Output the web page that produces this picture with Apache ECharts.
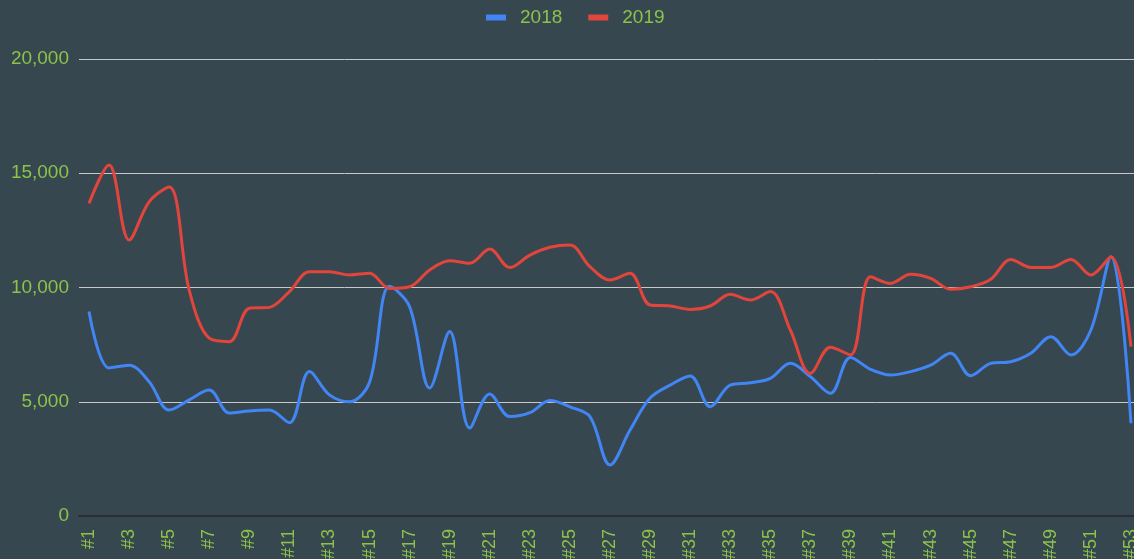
<!DOCTYPE html>
<html>
<head>
<meta charset="utf-8">
<script src="https://cdn.jsdelivr.net/npm/echarts@6/dist/echarts.min.js"></script>
<style>
  html, body { margin: 0; padding: 0; background: #37474f; overflow: hidden; }
  /* the plot runs slightly past the right edge of the window */
  #chart { width: 1146px; height: 559px; }
</style>
</head>
<body>
<div id="chart"></div>
<script>
// Weekly totals, week #1 to #53
const weeks = Array.from({ length: 53 }, (_, i) => '#' + (i + 1));

const values2018 = [
  8950, 6480, 6600, 5880, 4640, 5080, 5510, 4510, 4600, 4640,
  4080, 6320, 5300, 5000, 5850, 10050, 9160, 5600, 8070, 3850,
  5340, 4350, 4520, 5050, 4780, 4350, 2230, 3760, 5160, 5730,
  6130, 4780, 5730, 5830, 6020, 6680, 6100, 5370, 6940, 6420,
  6170, 6320, 6600, 7120, 6140, 6680, 6750, 7120, 7850, 7050,
  8140, 11350, 4060
];

const values2019 = [
  13680, 15360, 12080, 13750, 14400, 9890, 7780, 7630, 9090, 9130,
  9820, 10690, 10690, 10550, 10620, 9960, 10030, 10770, 11170, 11060,
  11680, 10870, 11420, 11760, 11860, 10910, 10330, 10620, 9230, 9190,
  9040, 9190, 9700, 9450, 9820, 8140, 6240, 7380, 7050, 10470,
  10180, 10580, 10400, 9920, 10030, 10360, 11230, 10880, 10880, 11230,
  10550, 11350, 7410
];

const yTicks = { min: 0, max: 20000, step: 5000 };

const textColor = '#8bc34a';
const font = 'Liberation Sans, Arial, sans-serif';

const chart = echarts.init(document.getElementById('chart'), null, { renderer: 'canvas' });

chart.setOption({
  backgroundColor: '#37474f',
  animation: false,
  legend: {
    top: 3,
    left: 481,
    padding: 5,
    itemWidth: 20,
    itemHeight: 6,
    itemGap: 26,
    icon: 'rect',
    textStyle: {
      color: textColor,
      fontSize: 19,
      fontFamily: font,
      padding: [0, 0, 0, 9]
    },
    data: ['2018', '2019']
  },
  // rotated week labels are allowed to run off the bottom edge
  grid: {
    left: 79, right: 5, top: 59, bottom: 43,
    containLabel: false,
    outerBoundsMode: 'none'
  },
  xAxis: {
    type: 'category',
    data: weeks,
    boundaryGap: true,
    axisLine: { show: true, lineStyle: { color: '#2b2f33', width: 2 } },
    axisTick: { show: false },
    axisLabel: {
      interval: 1,
      rotate: 90,
      margin: 13,
      color: textColor,
      fontSize: 18,
      fontFamily: font
    },
    splitLine: { show: false }
  },
  yAxis: {
    type: 'value',
    min: yTicks.min,
    max: yTicks.max,
    interval: yTicks.step,
    axisLine: { show: false },
    axisTick: { show: false },
    axisLabel: {
      margin: 10,
      color: textColor,
      fontSize: 19,
      fontFamily: font,
      formatter: v => v.toLocaleString('en-US')
    },
    splitLine: { lineStyle: { color: '#c8c8c8', width: 1 } }
  },
  series: [
    {
      name: '2018',
      type: 'line',
      data: values2018,
      smooth: 0.35,
      showSymbol: false,
      lineStyle: { color: '#4285f4', width: 3 },
      itemStyle: { color: '#4285f4' }
    },
    {
      name: '2019',
      type: 'line',
      data: values2019,
      smooth: 0.35,
      showSymbol: false,
      lineStyle: { color: '#e2453c', width: 3 },
      itemStyle: { color: '#e2453c' }
    }
  ]
});
</script>
</body>
</html>
